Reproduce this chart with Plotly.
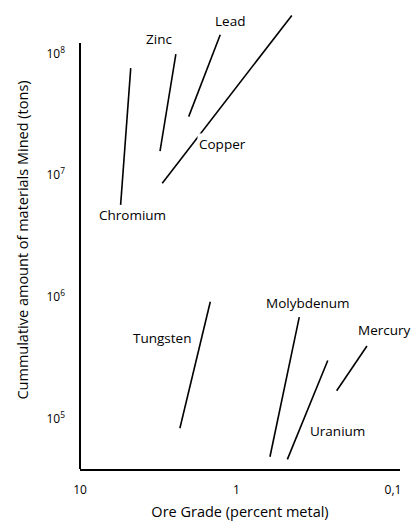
import plotly.graph_objects as go

# Data: ore grade (percent metal) and cumulative amount mined (tons), segment endpoints
metals = ["Chromium", "Zinc", "Lead", "Copper", "Tungsten", "Molybdenum", "Uranium", "Mercury"]
grade_start = [5.50, 3.08, 2.02, 2.98, 2.30, 0.611, 0.473, 0.229]
grade_end = [4.74, 2.44, 1.27, 0.443, 1.47, 0.397, 0.261, 0.1466]
tons_start = [5.7e6, 1.58e7, 3.03e7, 8.6e6, 8.3e4, 4.84e4, 4.6e4, 1.69e5]
tons_end = [7.59e7, 9.9e7, 1.43e8, 2.06e8, 9.1e5, 6.8e5, 2.99e5, 3.94e5]

# label positions (paper coords)
label_x = [0.163, 0.247, 0.469, 0.444, 0.256, 0.714, 0.805, 0.950]
label_y = [0.555, 0.939, 0.978, 0.709, 0.286, 0.362, 0.084, 0.304]

x_tickvals = [10, 1, 0.1]
x_ticktext = ["10", "1", "0,1"]
y_tickvals = [1e5, 1e6, 1e7, 1e8]
y_ticktext = ["10<sup>5</sup>", "10<sup>6</sup>", "10<sup>7</sup>", "10<sup>8</sup>"]

FONT = "Open Sans"

fig = go.Figure()
for i, m in enumerate(metals):
    fig.add_trace(go.Scatter(
        x=[grade_start[i], grade_end[i]],
        y=[tons_start[i], tons_end[i]],
        mode="lines",
        line=dict(color="black", width=1.6),
        name=m,
        showlegend=False,
        hoverinfo="name",
    ))

for i, m in enumerate(metals):
    fig.add_annotation(
        text=m, x=label_x[i], y=label_y[i], xref="paper", yref="paper",
        xanchor="center", yanchor="middle", showarrow=False,
        font=dict(family=FONT, size=13.5, color="black"),
        bgcolor="white" if m == "Copper" else "rgba(0,0,0,0)",
        borderpad=1,
    )

# y axis line (shorter than plot area)
fig.add_shape(type="line", xref="paper", yref="paper", x0=0, x1=0, y0=0, y1=0.93,
              line=dict(color="black", width=2))

fig.update_layout(
    width=412, height=521,
    margin=dict(l=80, r=12, t=11, b=52),
    paper_bgcolor="white", plot_bgcolor="white",
    font=dict(family=FONT, color="black"),
    xaxis=dict(
        type="log", range=[1, -1.045], showgrid=False, zeroline=False, automargin=False,
        showline=True, linecolor="black", linewidth=2,
        tickvals=x_tickvals, ticktext=x_ticktext, ticks="",
        tickfont=dict(family=FONT, size=12), ticklabelstandoff=9,
        title=dict(text="Ore Grade (percent metal)", font=dict(family=FONT, size=14.5), standoff=12),
    ),
    yaxis=dict(
        type="log", range=[4.584, 8.35], showgrid=False, zeroline=False, automargin=False,
        showline=False,
        tickvals=y_tickvals, ticktext=y_ticktext, ticks="",
        tickfont=dict(family=FONT, size=12), ticklabelstandoff=14,
        title=dict(text="Cummulative amount of materials Mined (tons)", font=dict(family=FONT, size=14.5), standoff=14),
    ),
)

fig.write_html("out.html", config={"displayModeBar": False},
               post_script="document.body.style.margin='0px';document.body.style.overflow='hidden';")
